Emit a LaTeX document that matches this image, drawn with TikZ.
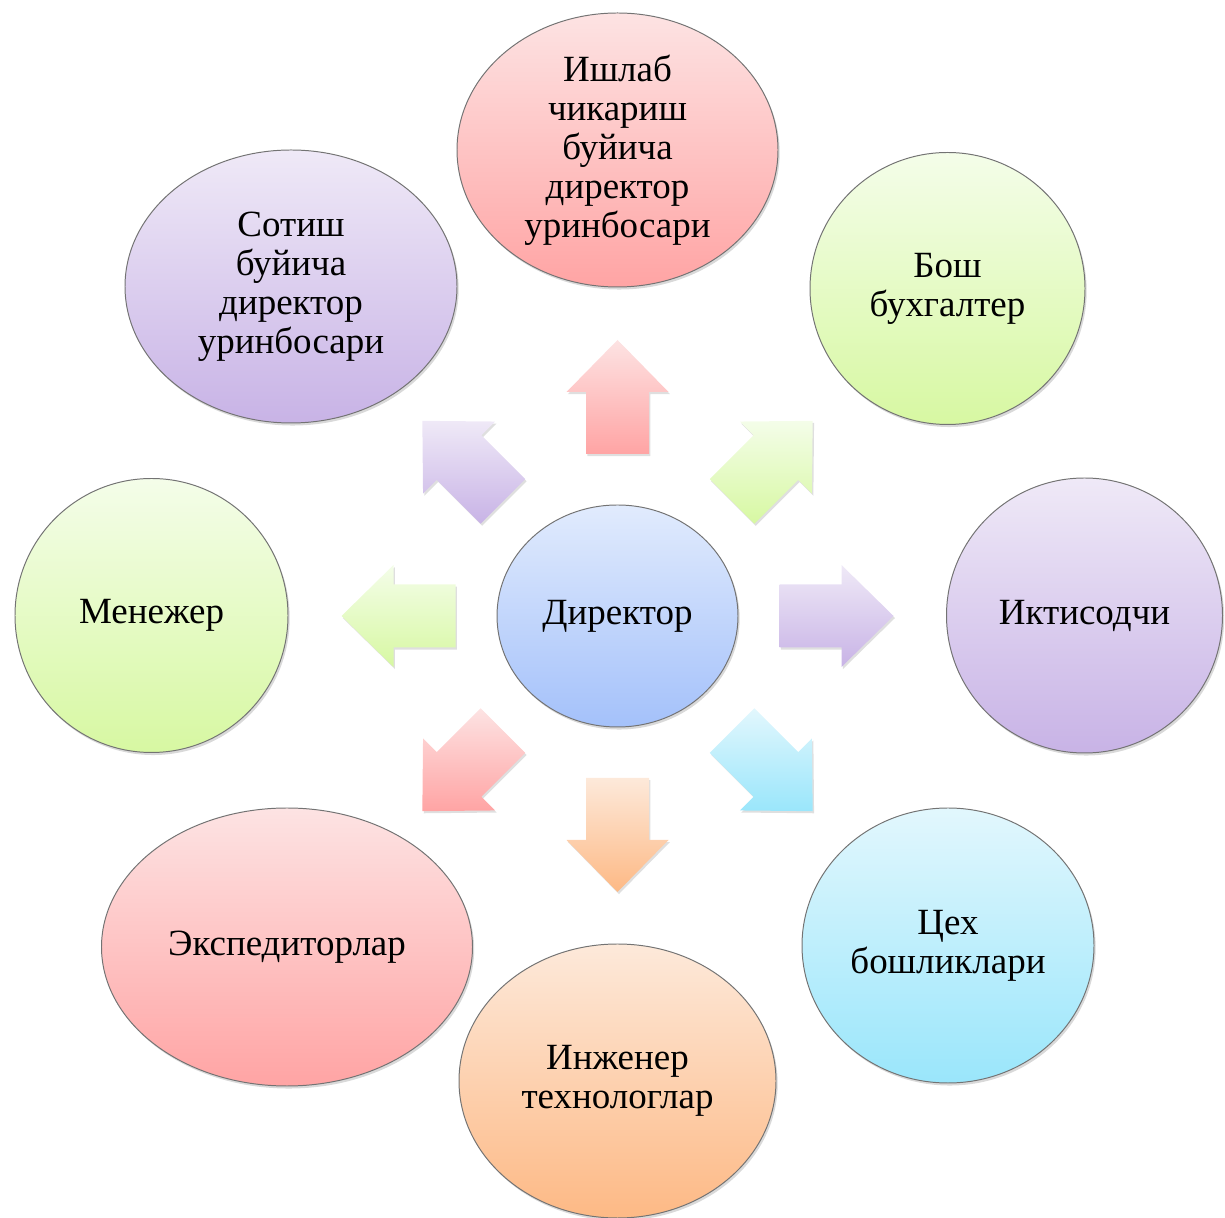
\documentclass[tikz,border=0pt]{standalone}
\usepackage{fontspec}
\setmainfont{Liberation Serif}
\usetikzlibrary{shapes.geometric, shadows, calc}

\definecolor{topred}{HTML}{FDE3E3}
\definecolor{botred}{HTML}{FFA4A4}
\definecolor{topgreen}{HTML}{F4FDE9}
\definecolor{botgreen}{HTML}{D7F8A2}
\definecolor{toppurple}{HTML}{EFE9F7}
\definecolor{botpurple}{HTML}{C8B3E6}
\definecolor{topcyan}{HTML}{E2F7FD}
\definecolor{botcyan}{HTML}{9AE6FB}
\definecolor{toporange}{HTML}{FDE9DA}
\definecolor{botorange}{HTML}{FDB985}
\definecolor{topblue}{HTML}{E1EBFD}
\definecolor{botblue}{HTML}{A4C1FA}

\def\pix{0.025cm}

\tikzset{
    oval/.style 2 args={
        ellipse, draw=black!55, line width=0.7pt, align=center, inner sep=-8pt,
        minimum width=#1*\pix, minimum height=#2*\pix,
        font=\fontsize{26.3}{27.7}\selectfont,
        drop shadow={shadow xshift=1.2pt, shadow yshift=-1.8pt, opacity=0.3}
    },
    tint/.style={top color=top#1, bottom color=bot#1},
    bigarrow/.style={
        top color=top#1, bottom color=bot#1, draw=none,
        drop shadow={shadow xshift=1pt, shadow yshift=-1.5pt, opacity=0.25}
    }
}

\begin{document}
\begin{tikzpicture}[x=\pix, y=\pix]
	\useasboundingbox (0,0) rectangle (1225,1218);

	% centre
	\node[oval={241}{222}, tint=blue] (dir) at (617.5,602) {Директор};

	% les huit postes autour
	\node[oval={321}{274}, tint=red] (prod) at (617.5,1068)
		{Ишлаб\\чикариш\\буйича\\директор\\уринбосари};
	\node[oval={275}{272}, tint=green] (bosh) at (947.5,929.5)
		{Бош\\бухгалтер};
	\node[oval={276}{275}, tint=purple] (ikt) at (1084.5,602.5)
		{Иктисодчи};
	\node[oval={292}{275}, tint=cyan] (tsex) at (948,272.5)
		{Цех\\бошликлари};
	\node[oval={317}{274}, tint=orange] (inzh) at (617.5,137)
		{Инженер\\технологлар};
	\node[oval={371}{278}, tint=red] (eksp) at (287,271)
		{Экспедиторлар};
	\node[oval={273}{274}, tint=green] (menej) at (151.5,602.5)
		{Менежер};
	\node[oval={332}{273}, tint=purple] (sotish) at (291,931.5)
		{Сотиш\\буйича\\директор\\уринбосари};

	% flèches pleines
	\def\tail{162}
	\def\neck{224}
	\def\tip{276}
	\def\shaft{31.5}
	\def\head{51}
	\foreach \ang/\col in {90/red, 45/green, 0/purple, -45/cyan,
	                       -90/orange, -135/red, 180/green, 135/purple}
		\shade[bigarrow=\col]
			($(dir.center)+(\ang:\tail)+(\ang+90:\shaft)$) --
			($(dir.center)+(\ang:\neck)+(\ang+90:\shaft)$) --
			($(dir.center)+(\ang:\neck)+(\ang+90:\head)$) --
			($(dir.center)+(\ang:\tip)$) --
			($(dir.center)+(\ang:\neck)+(\ang-90:\head)$) --
			($(dir.center)+(\ang:\neck)+(\ang-90:\shaft)$) --
			($(dir.center)+(\ang:\tail)+(\ang-90:\shaft)$) -- cycle;

\end{tikzpicture}
\end{document}
